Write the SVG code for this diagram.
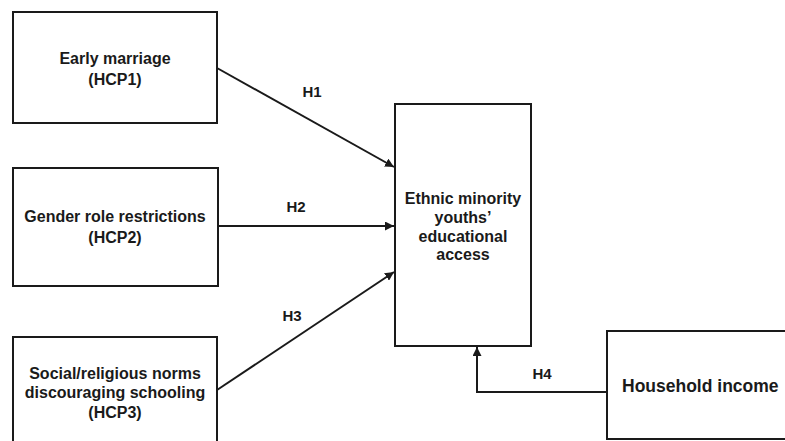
<svg xmlns="http://www.w3.org/2000/svg" width="785" height="441" viewBox="0 0 785 441">
<style>
.box{fill:#fff;stroke:#1a1a1a;stroke-width:2}
.t{font-family:"Liberation Sans",Arial,sans-serif;font-weight:bold;font-size:16px;fill:#1a1a1a;text-anchor:middle}
.lbl{font-family:"Liberation Sans",Arial,sans-serif;font-weight:bold;font-size:15px;fill:#1a1a1a;text-anchor:middle}
.c{fill:none;stroke:#1a1a1a;stroke-width:2}
</style>
<defs>
<marker id="ah" viewBox="0 0 10 10" refX="10" refY="5" markerWidth="4.5" markerHeight="4.5" orient="auto" markerUnits="strokeWidth">
<path d="M0,0 L10,5 L0,10 z" fill="#1a1a1a"/>
</marker>
</defs>
<rect width="785" height="441" fill="#fff"/>
<g id="n1">
<rect class="box" x="13" y="12" width="204" height="111"/>
<text class="t" x="115" y="64">Early marriage</text>
<text class="t" x="115" y="85">(HCP1)</text>
</g>
<g id="n2">
<rect class="box" x="13" y="168" width="205" height="118"/>
<text class="t" x="115" y="222">Gender role restrictions</text>
<text class="t" x="115" y="243">(HCP2)</text>
</g>
<g id="n3">
<rect class="box" x="13" y="337" width="204" height="110"/>
<text class="t" x="115" y="379">Social/religious norms</text>
<text class="t" x="115" y="398">discouraging schooling</text>
<text class="t" x="115" y="418">(HCP3)</text>
</g>
<g id="n4">
<rect class="box" x="395" y="104" width="136" height="242"/>
<text class="t" x="463" y="204">Ethnic minority</text>
<text class="t" x="463" y="223">youths’</text>
<text class="t" x="463" y="242">educational</text>
<text class="t" x="463" y="260">access</text>
</g>
<g id="n5">
<rect class="box" x="607" y="331" width="190" height="108"/>
<text class="t" x="622" y="392" style="text-anchor:start;font-size:17.5px">Household income</text>
</g>
<g id="connectors">
<line class="c" x1="217" y1="68" x2="394" y2="167" marker-end="url(#ah)"/>
<line class="c" x1="218" y1="226" x2="394" y2="226" marker-end="url(#ah)"/>
<line class="c" x1="217" y1="390" x2="394" y2="272" marker-end="url(#ah)"/>
<polyline class="c" points="607,392 477,392 477,347" marker-end="url(#ah)"/>
<text class="lbl" x="312" y="97">H1</text>
<text class="lbl" x="296" y="212">H2</text>
<text class="lbl" x="292" y="321">H3</text>
<text class="lbl" x="542" y="379">H4</text>
</g>
</svg>
